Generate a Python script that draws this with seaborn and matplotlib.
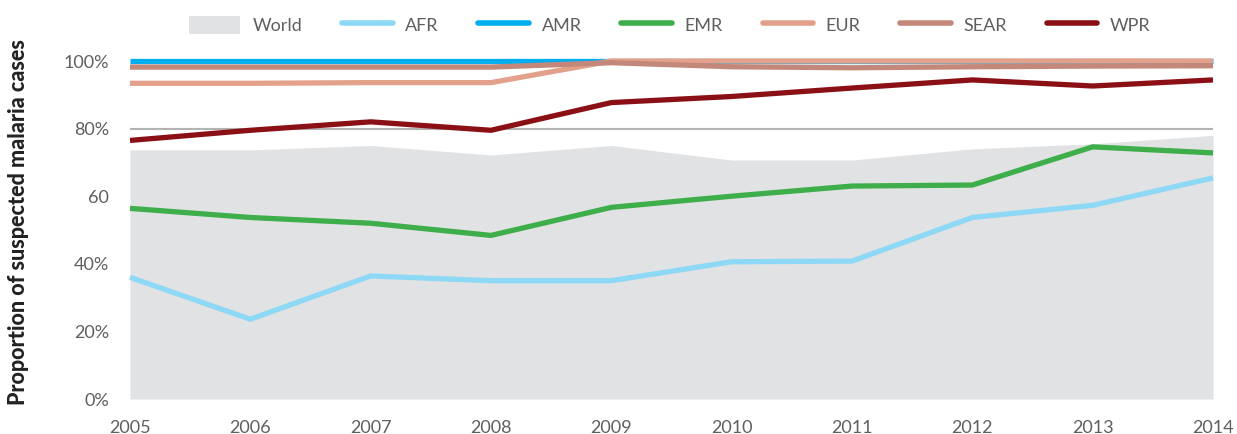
import numpy as np
import pandas as pd
import matplotlib
matplotlib.use("Agg")
import matplotlib.pyplot as plt
from matplotlib.patches import Patch
from matplotlib.lines import Line2D
import seaborn as sns

years = [2005, 2006, 2007, 2008, 2009, 2010, 2011, 2012, 2013, 2014]
world = [73.7, 73.7, 75.0, 72.2, 75.0, 70.7, 70.7, 74.0, 75.5, 78.0]
afr = [36.0, 23.6, 36.4, 35.0, 35.0, 40.6, 40.8, 53.7, 57.3, 65.4]
amr = [100, 100, 100, 100, 100, 100, 100, 100, 100, 100]
emr = [56.4, 53.7, 52.0, 48.4, 56.7, 60.0, 63.0, 63.3, 74.6, 72.8]
eur = [93.4, 93.4, 93.6, 93.6, 100, 100, 100, 100, 100, 100]
sear = [98.2, 98.2, 98.2, 98.2, 99.5, 98.3, 98.0, 98.3, 98.5, 98.6]
wpr = [76.5, 79.5, 82.0, 79.5, 87.7, 89.5, 92.0, 94.4, 92.6, 94.4]

regions = ["AFR", "AMR", "EMR", "EUR", "SEAR", "WPR"]
colors = {"AFR": "#8dd8f5", "AMR": "#00aeef", "EMR": "#3dae49",
          "EUR": "#e3a18b", "SEAR": "#c4887a", "WPR": "#8b1016"}
world_color = "#e1e2e4"
text_grey = "#5f5f5f"

df = pd.DataFrame({"year": years * 6,
                   "region": np.repeat(regions, len(years)),
                   "value": afr + amr + emr + eur + sear + wpr})

sns.set_style("white")
plt.rcParams["font.family"] = ["Lato", "DejaVu Sans"]

fig = plt.figure(figsize=(12.37, 4.34), dpi=100)
ax = fig.add_axes([130 / 1237, 35 / 434, 1083 / 1237, 338 / 434])

ax.fill_between(years, 0, world, color=world_color, lw=0, zorder=1)
ax.axhline(80, color="#b3b3b3", lw=1.5, zorder=2)

sns.lineplot(data=df, x="year", y="value", hue="region", hue_order=regions,
             palette=colors, linewidth=3.8, ax=ax, legend=False, zorder=3)
for ln in ax.get_lines():
    ln.set_clip_on(False)
    ln.set_solid_capstyle("butt")

ax.set_xlim(2005, 2014)
ax.set_ylim(0, 100)
ax.set_xticks(years)
ax.set_xticklabels([str(y) for y in years], fontsize=13, color=text_grey)
ax.set_yticks([0, 20, 40, 60, 80, 100])
ax.set_yticklabels(["0%", "20%", "40%", "60", "80%", "100%"], fontsize=13,
                   color=text_grey)
ax.tick_params(axis="x", length=5, width=1, color="#999999", pad=10)
ax.tick_params(axis="y", length=0, pad=15)
for s in ax.spines.values():
    s.set_visible(False)
ax.set_xlabel("")
ax.set_ylabel("")
fig.text(19 / 1237, 1 - 222 / 434, "Proportion of suspected malaria cases",
         rotation=90, ha="center", va="center", fontsize=15.5,
         fontweight="black", color="#222222")

handles = [Patch(facecolor=world_color, edgecolor="none", label="World")]
for r in regions:
    handles.append(Line2D([0], [0], color=colors[r], lw=4, label=r))
leg = fig.legend(handles=handles, loc="center", bbox_to_anchor=(670 / 1237, 1 - 25 / 434),
                 ncol=7, frameon=False, fontsize=13, handlelength=2.8,
                 handleheight=1.2, handletextpad=0.7, columnspacing=2.2)
for t in leg.get_texts():
    t.set_color(text_grey)

fig.savefig("out.png", dpi=100)
